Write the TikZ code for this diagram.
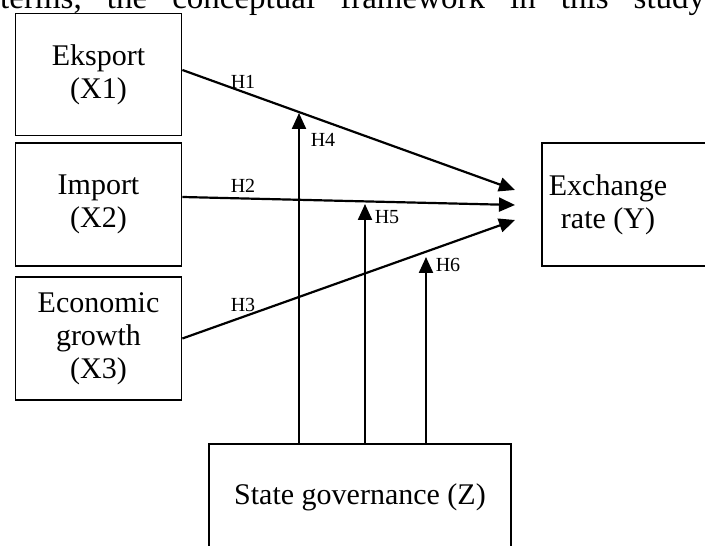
\documentclass[tikz,border=0pt]{standalone}
\usepackage{fontspec}
\setmainfont{Liberation Serif}
\usetikzlibrary{arrows.meta,calc}
\newcommand{\bxfont}{\fontsize{30}{33}\selectfont}
\newcommand{\hypfont}{\fontsize{20}{22}\selectfont}
\newcommand{\topfont}{\fontsize{33}{36}\selectfont}

\begin{document}
\begin{tikzpicture}[x=1pt,y=1pt,
	box/.style={draw, line width=1.8pt, align=center, font=\bxfont, inner sep=0pt},
	arr/.style={line width=2.2pt, -{Triangle[length=16pt,width=14pt]}},
	hyp/.style={font=\hypfont, inner sep=0pt}]
	\useasboundingbox (0,0) rectangle (705,546);
	\clip (0,0) rectangle (705,546);
	%text line cut at the top
	\node[anchor=base west, inner sep=0pt] (top) at (0,537) {\topfont\hbox to 705pt{terms,\hfill the\hfill conceptual\hfill framework\hfill in\hfill this\hfill study}};
	
	%variables
	\node[box, minimum width=166pt, minimum height=122pt] (eks) at (98.5,471.5) {Eksport\\(X1)};
	\node[box, minimum width=166pt, minimum height=123pt] (imp) at (98.5,341.5) {Import\\(X2)};
	\node[box, minimum width=166pt, minimum height=123pt] (eco) at (98.5,207.5) {Economic\\growth\\(X3)};
	\node[box, minimum width=178pt, minimum height=123pt] (rate) at (631,341.5) {};
	\node[font=\bxfont, align=center, inner sep=0pt] (ratetxt) at (608,341.5) {Exchange\\rate (Y)};
	\node[box, minimum width=302pt, minimum height=106pt] (gov) at (360,49) {State governance (Z)};
	
	%arrow ends
	\coordinate (y1) at (515,356);
	\coordinate (y2) at (515,341);
	\coordinate (y3) at (515,326);
	\coordinate (z1) at (299,433);
	\coordinate (z2) at (365,342);
	\coordinate (z3) at (426,289);
	
	%direct effects
	\draw[arr] ([yshift=4.5pt]eks.east) -- (y1);
	\draw[arr] ([yshift=7.5pt]imp.east) -- (y2);
	\draw[arr] (eco.east) -- (y3);
	%moderation
	\draw[arr] (gov.north -| z1) -- (z1);
	\draw[arr] (gov.north -| z2) -- (z2);
	\draw[arr] (gov.north -| z3) -- (z3);
	
	%hypotheses
	\node[hyp] (h1) at (243,464) {H1};
	\node[hyp] (h2) at (243,360) {H2};
	\node[hyp] (h3) at (243,241) {H3};
	\node[hyp] (h4) at (323,406) {H4};
	\node[hyp] (h5) at (387,329) {H5};
	\node[hyp] (h6) at (448,281) {H6};
\end{tikzpicture}
\end{document}
